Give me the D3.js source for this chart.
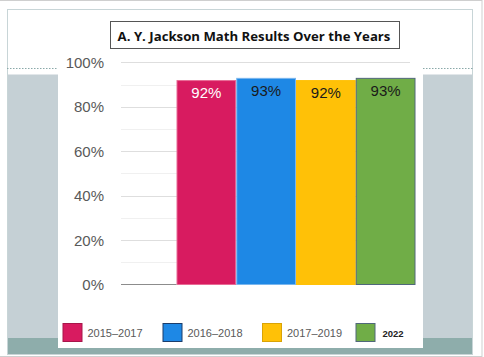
<!DOCTYPE html>
<html><head><meta charset="utf-8">
<script src="https://cdn.jsdelivr.net/npm/d3@7"></script>
<style>html,body{margin:0;padding:0;background:#fff;overflow:hidden}</style>
</head><body>
<svg id="c" width="484" height="357"></svg>
<script>
const categories = ["2015–2017", "2016–2018", "2017–2019", "2022"];
const values = [92, 93, 92, 93];
const yTicks = [0, 20, 40, 60, 80, 100];
const minorTicks = [10, 30, 50, 70, 90];
const title = "A. Y. Jackson Math Results Over the Years";
const barColors = ["#d81b60", "#1e88e5", "#ffc107", "#70ad47"];
const barStrokes = ["#e86a95", "#79b6ee", "#ffc107", "#50687a"];
const legendStrokes = ["#a8164a", "#1b3d6b", "#d9a306", "#50687a"];
const labelColors = ["#ffffff", "#1a1a1a", "#1a1a1a", "#1a1a1a"];

const svg = d3.select("#c");
const F = "Liberation Sans, Arial, sans-serif";

// frame & background
svg.append("rect").attr("x", -1).attr("y", 0.5).attr("width", 483).attr("height", 356).attr("fill", "#fff").attr("stroke", "#cfcfcf");
svg.append("rect").attr("x", 7).attr("y", 74.5).attr("width", 466).attr("height", 264).attr("fill", "#c5d0d5");
svg.append("rect").attr("x", 7).attr("y", 338).attr("width", 466).attr("height", 16.5).attr("fill", "#8eadab");
svg.append("rect").attr("x", 7.5).attr("y", 9.5).attr("width", 465).attr("height", 345).attr("fill", "none").attr("stroke", "#c8d5d7");
svg.append("line").attr("x1", 7).attr("x2", 58).attr("y1", 68.5).attr("y2", 68.5).attr("stroke", "#8aa9a9").attr("stroke-dasharray", "1.5,1.5");
svg.append("line").attr("x1", 423).attr("x2", 473).attr("y1", 68.5).attr("y2", 68.5).attr("stroke", "#8aa9a9").attr("stroke-dasharray", "1.5,1.5");
svg.append("rect").attr("x", 58).attr("y", 10).attr("width", 365).attr("height", 338).attr("fill", "#fff");

// title
svg.append("rect").attr("x", 110.5).attr("y", 21.5).attr("width", 289).attr("height", 27).attr("fill", "#fff").attr("stroke", "#555");
const t = svg.append("text").attr("x", 254).attr("y", 35.5).attr("text-anchor", "middle").attr("dominant-baseline", "central")
  .attr("font-family", "Open Sans, sans-serif").attr("font-weight", "bold").attr("font-size", 13).attr("fill", "#111").text(title);
const tl = t.node().getComputedTextLength();
t.attr("font-size", 13 * 273 / tl);

// scales
const y = d3.scaleLinear().domain([0, 100]).range([284.5, 62.3]);
const x = d3.scaleBand().domain(categories).range([176.5, 415.5]).padding(0);

// gridlines
svg.append("g").selectAll("line").data(minorTicks).join("line")
  .attr("x1", 121).attr("x2", 410).attr("y1", d => Math.round(y(d)) + 0.5).attr("y2", d => Math.round(y(d)) + 0.5)
  .attr("stroke", "#f0f0f0");
svg.append("g").selectAll("line").data(yTicks.filter(d => d > 0)).join("line")
  .attr("x1", 121).attr("x2", 410).attr("y1", d => Math.round(y(d)) + 0.5).attr("y2", d => Math.round(y(d)) + 0.5)
  .attr("stroke", "#dedede");

// y axis labels
const yAxis = d3.axisLeft(y).tickValues(yTicks).tickFormat(d => d + "%").tickSize(0).tickPadding(0);
const ga = svg.append("g").attr("transform", "translate(104,0)").call(yAxis);
ga.select(".domain").remove();
ga.selectAll("text").attr("font-family", F).attr("font-size", 15).attr("fill", "#595959").attr("dy", "0.35em");

// bars
svg.append("g").selectAll("rect").data(values).join("rect")
  .attr("x", (d, i) => x(categories[i]) + 0.5)
  .attr("y", d => y(d) + 0.5)
  .attr("width", x.bandwidth() - 1)
  .attr("height", d => y(0) - y(d) - 0.5)
  .attr("fill", (d, i) => barColors[i])
  .attr("stroke", (d, i) => barStrokes[i]);

// baseline
svg.append("line").attr("x1", 121).attr("x2", 176.5).attr("y1", y(0)).attr("y2", y(0)).attr("stroke", "#8c8c8c").attr("stroke-width", 1.2);

// value labels
svg.append("g").selectAll("text").data(values).join("text")
  .attr("x", (d, i) => x(categories[i]) + x.bandwidth() / 2)
  .attr("y", d => y(d) + 12.5)
  .attr("text-anchor", "middle").attr("dominant-baseline", "central")
  .attr("font-family", F).attr("font-size", 15)
  .attr("fill", (d, i) => labelColors[i])
  .text(d => d + "%");

// legend
const legX = [62.5, 162.5, 262, 355.5];
const lg = svg.append("g").selectAll("g").data(categories).join("g")
  .attr("transform", (d, i) => `translate(${legX[i]},323)`);
lg.append("rect").attr("x", 0.5).attr("y", 0.5).attr("width", 19).attr("height", 18)
  .attr("fill", (d, i) => barColors[i]).attr("stroke", (d, i) => legendStrokes[i]);
lg.append("text").attr("x", (d, i) => i === 3 ? 27 : 25).attr("y", 10).attr("dominant-baseline", "central")
  .attr("font-family", F)
  .attr("font-size", (d, i) => i === 3 ? 9.5 : 11)
  .attr("font-weight", (d, i) => i === 3 ? "bold" : "normal")
  .attr("fill", (d, i) => i === 3 ? "#222" : "#595959")
  .text(d => d);
</script>
</body></html>
